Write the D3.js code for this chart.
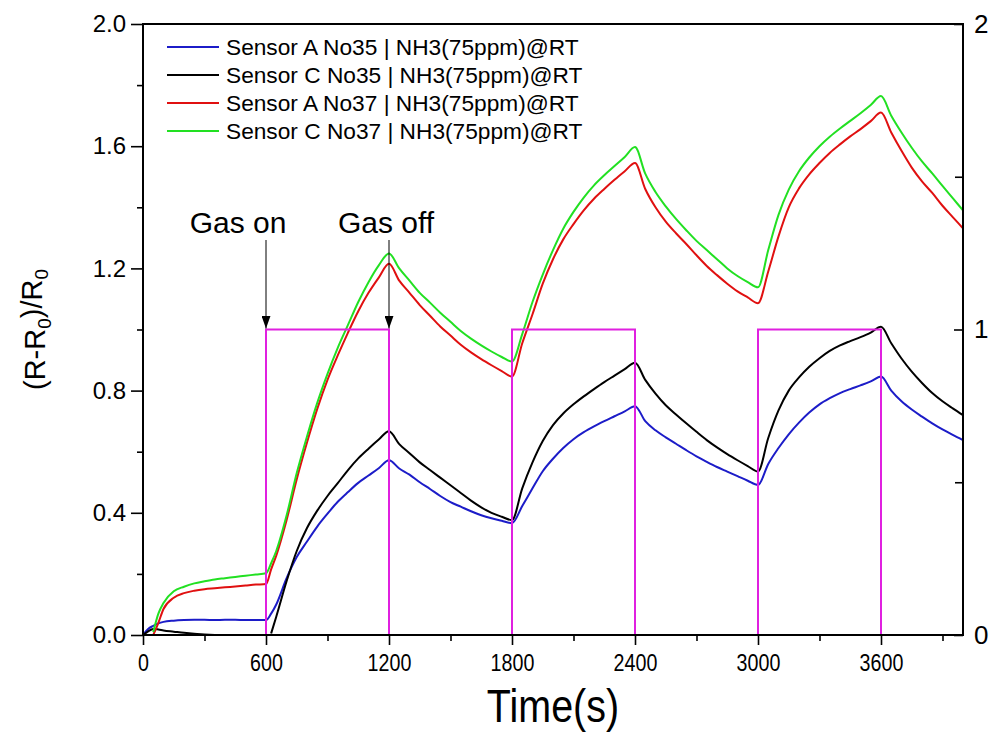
<!DOCTYPE html>
<html>
<head>
<meta charset="utf-8">
<script src="https://cdn.jsdelivr.net/npm/d3@7"></script>
<style>
  body { margin: 0; background: #fff; }
  svg { display: block; }
  text { font-family: "Liberation Sans", Arial, Helvetica, sans-serif; fill: #000; }
</style>
</head>
<body>
<svg id="chart" width="995" height="744"></svg>
<script>
// Sampling times (s)
const times = [0,25,50,75,100,150,200,250,300,350,400,450,500,550,600,625,650,
  700,750,800,850,900,950,1000,1050,1100,1150,1200,
  1250,1300,1350,1400,1450,1500,1550,1600,1650,1700,1750,1800,
  1850,1900,1950,2000,2050,2100,2150,2200,2250,2300,2350,2400,
  2450,2500,2550,2600,2650,2700,2750,2800,2850,2900,2950,3000,
  3050,3100,3150,3200,3250,3300,3350,3400,3450,3500,3550,3600,
  3650,3700,3750,3800,3850,3900,3950,4000];

// Response (R-R0)/R0 of each sensor, aligned with `times` (null = off scale)
const sensorA35 = [0,0.02,0.03,0.038,0.043,0.047,0.049,0.05,0.05,0.049,0.05,0.05,0.049,0.049,0.049,0.07,0.10,
  0.185,0.255,0.306,0.355,0.397,0.436,0.468,0.498,0.522,0.546,0.572,
  0.545,0.525,0.50,0.478,0.455,0.435,0.42,0.405,0.392,0.382,0.374,0.366,
  0.422,0.48,0.536,0.577,0.612,0.641,0.664,0.683,0.70,0.716,0.732,0.749,
  0.70,0.67,0.647,0.626,0.605,0.585,0.567,0.55,0.535,0.52,0.505,0.491,
  0.56,0.612,0.657,0.695,0.728,0.755,0.775,0.792,0.805,0.817,0.83,0.846,
  0.80,0.765,0.738,0.715,0.693,0.673,0.655,0.638];

const sensorC35 = [0,0.012,0.02,0.018,0.015,0.011,0.007,0.004,0.002,0.0,null,null,null,null,null,0.005,0.06,
  0.175,0.275,0.35,0.407,0.455,0.497,0.54,0.578,0.61,0.64,0.667,
  0.625,0.595,0.565,0.54,0.515,0.49,0.465,0.44,0.418,0.40,0.387,0.376,
  0.48,0.565,0.635,0.687,0.725,0.755,0.781,0.805,0.828,0.849,0.87,0.891,
  0.835,0.79,0.752,0.722,0.693,0.665,0.638,0.614,0.592,0.572,0.553,0.535,
  0.645,0.735,0.80,0.843,0.878,0.906,0.93,0.948,0.962,0.975,0.99,1.009,
  0.955,0.905,0.862,0.825,0.792,0.765,0.742,0.72];

const sensorA37 = [null,null,0.0,0.04,0.085,0.122,0.137,0.145,0.150,0.153,0.156,0.159,0.162,0.165,0.167,0.215,0.26,
  0.375,0.51,0.63,0.74,0.835,0.915,0.99,1.06,1.12,1.17,1.215,
  1.16,1.12,1.08,1.045,1.01,0.98,0.95,0.925,0.903,0.883,0.864,0.846,
  0.955,1.05,1.15,1.23,1.295,1.345,1.39,1.428,1.46,1.49,1.518,1.545,
  1.46,1.40,1.353,1.315,1.28,1.243,1.208,1.178,1.15,1.125,1.105,1.086,
  1.19,1.305,1.4,1.462,1.508,1.545,1.578,1.606,1.632,1.656,1.682,1.710,
  1.645,1.585,1.53,1.485,1.447,1.405,1.368,1.331];

const sensorC37 = [null,null,0.01,0.07,0.105,0.143,0.158,0.169,0.176,0.182,0.186,0.19,0.194,0.198,0.202,0.235,0.275,
  0.39,0.53,0.65,0.76,0.855,0.94,1.015,1.09,1.155,1.21,1.249,
  1.20,1.16,1.12,1.088,1.055,1.025,0.995,0.97,0.948,0.928,0.91,0.895,
  0.985,1.09,1.18,1.26,1.33,1.385,1.432,1.472,1.505,1.535,1.565,1.597,
  1.51,1.45,1.403,1.362,1.325,1.29,1.26,1.23,1.20,1.175,1.155,1.138,
  1.26,1.375,1.458,1.518,1.563,1.60,1.631,1.658,1.683,1.708,1.735,1.764,
  1.70,1.645,1.595,1.55,1.511,1.47,1.43,1.39];

// Gas valve state (right axis): 1 = NH3 on, 0 = off
const gasTimes = [0,600,1200,1800,2400,3000,3600,4000];
const gasState = [0,1,0,1,0,1,0,0];

const seriesLabels = [
  "Sensor A No35 | NH3(75ppm)@RT",
  "Sensor C No35 | NH3(75ppm)@RT",
  "Sensor A No37 | NH3(75ppm)@RT",
  "Sensor C No37 | NH3(75ppm)@RT"
];
const seriesColors = ["#1c1cc8", "#000000", "#e01010", "#22e022"];
const gasColor = "#e020e0";

const xMajorTicks = [0,600,1200,1800,2400,3000,3600];
const xMinorTicks = [300,900,1500,2100,2700,3300,3900];
const yMajorTicks = [0,0.4,0.8,1.2,1.6,2.0];
const yMinorTicks = [0.2,0.6,1.0,1.4,1.8];
const y2MajorTicks = [0,1,2];
const y2MinorTicks = [0.5,1.5];

// ---- layout ----
const svg = d3.select("#chart");
const plotLeft = 143, plotRight = 963, plotTop = 24, plotBottom = 635;

const x = d3.scaleLinear().domain([0, 4000]).range([plotLeft, plotRight]);
const y = d3.scaleLinear().domain([0, 2]).range([plotBottom, plotTop]);
const y2 = d3.scaleLinear().domain([0, 2]).range([plotBottom, plotTop]);

const allSeries = [sensorA35, sensorC35, sensorA37, sensorC37];

// ---- axes ----
function styleAxis(g) {
  g.select(".domain").remove();
  g.selectAll(".tick line").attr("stroke", "#000").attr("stroke-width", 1.6);
  g.attr("font-family", null).attr("font-size", null);
}

// bottom
svg.append("g").attr("transform", `translate(0,${plotBottom})`)
  .call(d3.axisBottom(x).tickValues(xMinorTicks).tickSize(6).tickFormat(""))
  .call(styleAxis);
const xAxisG = svg.append("g").attr("transform", `translate(0,${plotBottom})`)
  .call(d3.axisBottom(x).tickValues(xMajorTicks).tickSize(10).tickPadding(9).tickFormat(d3.format("d")))
  .call(styleAxis);
xAxisG.selectAll("text").style("font-size", "24px").attr("transform", "scale(0.82,1)");

// left
svg.append("g").attr("transform", `translate(${plotLeft},0)`)
  .call(d3.axisLeft(y).tickValues(yMinorTicks).tickSize(6).tickFormat(""))
  .call(styleAxis);
const yAxisG = svg.append("g").attr("transform", `translate(${plotLeft},0)`)
  .call(d3.axisLeft(y).tickValues(yMajorTicks).tickSize(12).tickPadding(5).tickFormat(d3.format(".1f")))
  .call(styleAxis);
yAxisG.selectAll("text").style("font-size", "24px");

// right (inward ticks)
svg.append("g").attr("transform", `translate(${plotRight},0)`)
  .call(d3.axisRight(y2).tickValues(y2MinorTicks).tickSize(-8).tickFormat(""))
  .call(styleAxis);
const y2AxisG = svg.append("g").attr("transform", `translate(${plotRight},0)`)
  .call(d3.axisRight(y2).tickValues(y2MajorTicks).tickSize(-9).tickPadding(11).tickFormat(d3.format("d")))
  .call(styleAxis);
y2AxisG.selectAll("text").style("font-size", "26px");

// ---- data ----
const plot = svg.append("g");

const line = d3.line()
  .defined(d => d[1] !== null)
  .curve(d3.curveMonotoneX)
  .x(d => x(d[0]))
  .y(d => y(d[1]));

allSeries.forEach((vals, i) => {
  plot.append("path")
    .datum(times.map((t, k) => [t, vals[k]]))
    .attr("fill", "none")
    .attr("stroke", seriesColors[i])
    .attr("stroke-width", 2)
    .attr("stroke-linejoin", "round")
    .attr("d", line);
});

const gasLine = d3.line()
  .curve(d3.curveStepAfter)
  .x(d => x(d[0]))
  .y(d => y2(d[1]));
plot.append("path")
  .datum(gasTimes.map((t, k) => [t, gasState[k]]))
  .attr("fill", "none")
  .attr("stroke", gasColor)
  .attr("stroke-width", 2)
  .attr("d", gasLine);

// frame
svg.append("rect")
  .attr("x", plotLeft).attr("y", plotTop)
  .attr("width", plotRight - plotLeft).attr("height", plotBottom - plotTop)
  .attr("fill", "none").attr("stroke", "#000").attr("stroke-width", 2);

// ---- legend ----
const legend = svg.append("g");
seriesLabels.forEach((lab, i) => {
  const ly = 47 + i * 28;
  legend.append("line")
    .attr("x1", 167).attr("x2", 219).attr("y1", ly).attr("y2", ly)
    .attr("stroke", seriesColors[i]).attr("stroke-width", 2);
  legend.append("text")
    .attr("x", 226).attr("y", ly).attr("dy", "0.35em")
    .style("font-size", "22.7px")
    .text(lab);
});

// ---- gas on / off annotations ----
svg.append("defs").append("marker")
  .attr("id", "arrowHead")
  .attr("viewBox", "0 0 10 14")
  .attr("refX", 5).attr("refY", 14)
  .attr("markerWidth", 9).attr("markerHeight", 13)
  .attr("markerUnits", "userSpaceOnUse")
  .attr("orient", "0")
  .append("path").attr("d", "M0,0 L10,0 L5,14 Z").attr("fill", "#000");

const notes = [
  { label: "Gas on", t: 600, tx: 238 },
  { label: "Gas off", t: 1200, tx: 386 }
];
notes.forEach(n => {
  svg.append("text")
    .attr("x", n.tx).attr("y", 233)
    .attr("text-anchor", "middle")
    .style("font-size", "30px")
    .text(n.label);
  svg.append("line")
    .attr("x1", x(n.t)).attr("x2", x(n.t))
    .attr("y1", 240).attr("y2", y2(1) - 1)
    .attr("stroke", "#000").attr("stroke-width", 1)
    .attr("marker-end", "url(#arrowHead)");
});

// ---- axis titles ----
const yTitle = svg.append("text")
  .attr("transform", `translate(45,${(plotTop + plotBottom) / 2}) rotate(-90)`)
  .attr("text-anchor", "middle")
  .style("font-size", "29px");
yTitle.append("tspan").text("(R-R");
yTitle.append("tspan").attr("dy", "0.3em").style("font-size", "19px").text("0");
yTitle.append("tspan").attr("dy", "-0.3em").text(")/R");
yTitle.append("tspan").attr("dy", "0.3em").style("font-size", "19px").text("0");

svg.append("text")
  .attr("transform", `translate(${(plotLeft + plotRight) / 2},722) scale(0.84,1)`)
  .attr("text-anchor", "middle")
  .style("font-size", "47px")
  .text("Time(s)");
</script>
</body>
</html>
